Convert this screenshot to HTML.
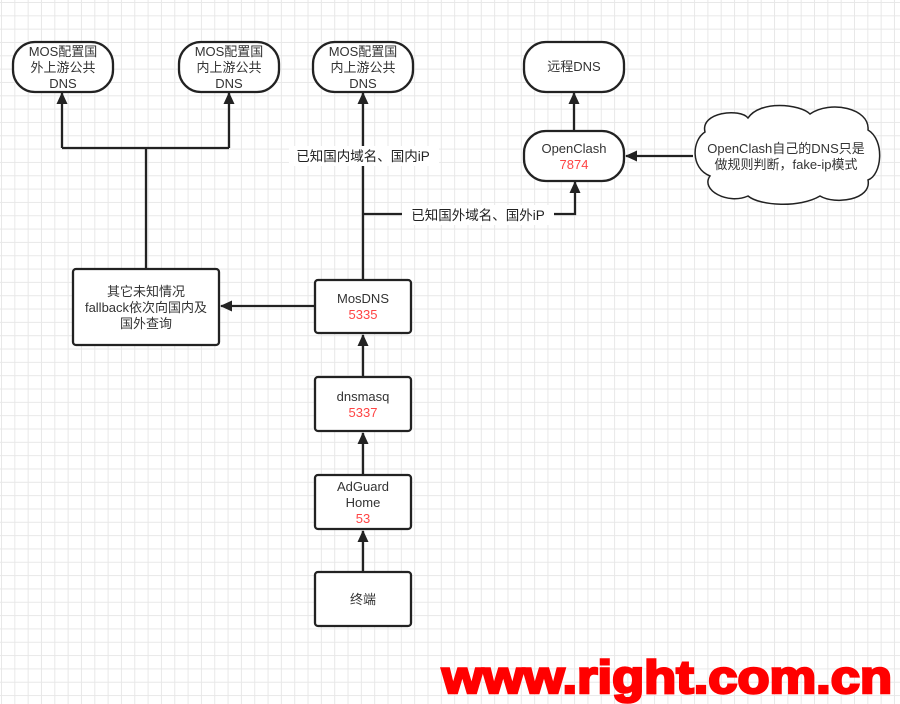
<!DOCTYPE html>
<html><head><meta charset="utf-8"><style>
html,body{margin:0;padding:0;width:900px;height:704px;overflow:hidden;background:#fff;}
body{background-image:linear-gradient(#e8e8e8 1px,transparent 1px),linear-gradient(90deg,#e8e8e8 1px,transparent 1px);background-size:13.33px 13.33px;background-position:1px 2px;}
svg{position:absolute;left:0;top:0;}
text{font-family:"Liberation Sans","Noto Sans CJK SC",sans-serif;font-size:13px;fill:#333;text-anchor:middle;}
.r{fill:#f44;}
</style></head><body>
<svg width="900" height="704" viewBox="0 0 900 704">
<defs><marker id="a" markerWidth="12" markerHeight="12" refX="11" refY="6" orient="auto" markerUnits="userSpaceOnUse"><path d="M0,0.5 L12,6 L0,11.5 Z" fill="#222"/></marker></defs>
<g fill="#fff" stroke="#222" stroke-width="2.3">
<rect x="13" y="42" width="100" height="50" rx="22"/>
<rect x="179" y="42" width="100" height="50" rx="22"/>
<rect x="313" y="42" width="100" height="50" rx="22"/>
<rect x="524" y="42" width="100" height="50" rx="22"/>
<rect x="524" y="131" width="100" height="50" rx="22"/>
<rect x="73" y="269" width="146" height="76" rx="3"/>
<rect x="315" y="280" width="96" height="53" rx="3"/>
<rect x="315" y="377" width="96" height="54" rx="3"/>
<rect x="315" y="475" width="96" height="54" rx="3"/>
<rect x="315" y="572" width="96" height="54" rx="3"/>
<path d="M705,132 C700,112 740,108 748,118 C760,100 800,104 810,114 C830,100 870,108 868,130 C885,140 882,175 868,180 C872,200 835,205 820,196 C800,208 760,206 748,196 C728,205 700,190 710,176 C690,168 692,140 705,132 Z" stroke-width="1.5"/>
</g>
<g stroke="#222" stroke-width="2.3" fill="none">
<path d="M146,269 V148"/>
<path d="M62,148 H229"/>
<path d="M62,148 V93" marker-end="url(#a)"/>
<path d="M229,148 V93" marker-end="url(#a)"/>
<path d="M363,280 V93" marker-end="url(#a)"/>
<path d="M363,214 H575 V182" marker-end="url(#a)"/>
<path d="M574,131 V93" marker-end="url(#a)"/>
<path d="M693,156 H626" marker-end="url(#a)"/>
<path d="M315,306 H221" marker-end="url(#a)"/>
<path d="M363,377 V335" marker-end="url(#a)"/>
<path d="M363,475 V433" marker-end="url(#a)"/>
<path d="M363,572 V531" marker-end="url(#a)"/>
</g>
<rect x="289" y="146" width="150" height="20" fill="#fff"/>
<rect x="402" y="205" width="152" height="20" fill="#fff"/>
<text x="363" y="161" style="font-size:13.5px;fill:#222">已知国内域名、国内iP</text>
<text x="478" y="220" style="font-size:13.5px;fill:#222">已知国外域名、国外iP</text>
<text x="63" y="56">MOS配置国</text><text x="63" y="72">外上游公共</text><text x="63" y="88">DNS</text>
<text x="229" y="56">MOS配置国</text><text x="229" y="72">内上游公共</text><text x="229" y="88">DNS</text>
<text x="363" y="56">MOS配置国</text><text x="363" y="72">内上游公共</text><text x="363" y="88">DNS</text>
<text x="574" y="71">远程DNS</text>
<text x="574" y="153">OpenClash</text><text x="574" y="169" class="r">7874</text>
<text x="786" y="153">OpenClash自己的DNS只是</text><text x="786" y="169">做规则判断，fake-ip模式</text>
<text x="146" y="296">其它未知情况</text><text x="146" y="312">fallback依次向国内及</text><text x="146" y="328">国外查询</text>
<text x="363" y="303">MosDNS</text><text x="363" y="319" class="r">5335</text>
<text x="363" y="401">dnsmasq</text><text x="363" y="417" class="r">5337</text>
<text x="363" y="491">AdGuard</text><text x="363" y="507">Home</text><text x="363" y="523" class="r">53</text>
<text x="363" y="604">终端</text>
<text x="667" y="693" textLength="450" lengthAdjust="spacingAndGlyphs" style="font-size:46px;font-weight:bold;fill:#f00;stroke:#f00;stroke-width:2.5;font-family:'Liberation Sans',sans-serif;">www.right.com.cn</text>
</svg>
</body></html>
